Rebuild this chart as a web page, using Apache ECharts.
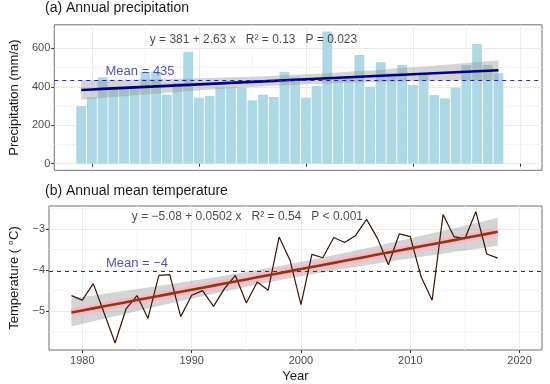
<!DOCTYPE html>
<html><head><meta charset="utf-8">
<script src="https://cdn.jsdelivr.net/npm/echarts@6/dist/echarts.min.js"></script>
<style>html,body{margin:0;padding:0;background:#fff}#c{width:550px;height:384px}</style>
</head><body><div id="c"></div>
<script>
// ---------- data ----------
const years = [1979,1980,1981,1982,1983,1984,1985,1986,1987,1988,1989,1990,1991,1992,1993,1994,1995,1996,1997,1998,1999,2000,2001,2002,2003,2004,2005,2006,2007,2008,2009,2010,2011,2012,2013,2014,2015,2016,2017,2018];
const precipitation = [300,345,449,400,395,405,478,478,360,420,582,343,352,400,400,395,329,359,347,478,450,343,404,688,450,450,565,400,527,470,513,409,470,357,340,395,513,622,513,470];
const temperature = [-4.62,-4.73,-4.33,-5.05,-5.77,-4.94,-4.62,-5.17,-4.13,-4.11,-5.13,-4.61,-4.50,-4.88,-4.45,-4.13,-4.80,-4.29,-4.49,-3.20,-3.76,-4.84,-3.62,-3.70,-3.21,-3.33,-3.16,-2.77,-3.23,-3.87,-3.12,-3.19,-4.17,-4.73,-2.65,-3.19,-3.24,-2.58,-3.61,-3.71];
const precipFit = [381, 2.63];
const tempFit = [-5.08, 0.0502];
const yearTicks = [1980,1990,2000,2010,2020];
const yearMinor = [1985,1995,2005,2015];
const precipTicks = [0,200,400,600];
const precipMinor = [100,300,500,700];
const tempTicks = [-5,-4,-3];
const tempMinor = [-5.5,-4.5,-3.5,-2.5];
const titleA = '(a) Annual precipitation';
const titleB = '(b) Annual mean temperature';
const eqA = 'y = 381 + 2.63 x   R² = 0.13   P = 0.023';
const eqB = 'y = −5.08 + 0.0502 x   R² = 0.54   P < 0.001';
const meanLabelA = 'Mean = 435';
const meanLabelB = 'Mean = −4';

// ---------- layout ----------
const FONT = 'Liberation Sans';
const G1 = {left:45, top:24.8, width:497, height:145.5};
const G2 = {left:47, top:206, width:495, height:146.7};
const xR1 = [1976.48, 2022.07], xR2 = [1976.95, 2022.05];
const yR1 = [-34.4, 722.4], yR2 = [-5.94, -2.445];

function mean(a){return a.reduce((s,v)=>s+v,0)/a.length;}
function band(vals, coef){
  const n = vals.length, xs = vals.map((_,i)=>i+1), xb = (n+1)/2;
  let sxx=0, sse=0;
  xs.forEach((x,i)=>{sxx+=(x-xb)*(x-xb); const r=vals[i]-(coef[0]+coef[1]*x); sse+=r*r;});
  const s = Math.sqrt(sse/(n-2)), t = 2.024;
  const fit = xs.map(x=>coef[0]+coef[1]*x);
  const se = xs.map(x=>s*Math.sqrt(1/n+(x-xb)*(x-xb)/sxx));
  return {fit, lo:fit.map((f,i)=>f-t*se[i]), hi:fit.map((f,i)=>f+t*se[i])};
}
const bA = band(precipitation, precipFit);
const bB = band(temperature, tempFit);

function ribbon(idx, b){
  return {type:'custom', xAxisIndex:idx, yAxisIndex:idx, z:3, silent:true,
    data:[[years[0], b.lo[0]]],
    renderItem:(p, api)=>{
      const pts=[];
      for(let i=0;i<years.length;i++) pts.push(api.coord([years[i], b.hi[i]]));
      for(let i=years.length-1;i>=0;i--) pts.push(api.coord([years[i], b.lo[i]]));
      return {type:'polygon', shape:{points:pts}, style:{fill:'rgba(153,153,153,0.42)'}};
    }};
}
function minorGrid(idx, xs, ys){
  return {type:'custom', xAxisIndex:idx, yAxisIndex:idx, z:1, silent:true,
    data:[[xs[0], ys[0]]],
    renderItem:(p, api)=>{
      const cs=p.coordSys, ch=[];
      xs.forEach(v=>{const x=api.coord([v, ys[0]])[0]; ch.push({type:'line', shape:{x1:x,y1:cs.y,x2:x,y2:cs.y+cs.height}, style:{stroke:'#f4f4f4', lineWidth:1}});});
      ys.forEach(v=>{const y=api.coord([xs[0], v])[1]; if(y>=cs.y&&y<=cs.y+cs.height) ch.push({type:'line', shape:{x1:cs.x,y1:y,x2:cs.x+cs.width,y2:y}, style:{stroke:'#f4f4f4', lineWidth:1}});});
      return {type:'group', children:ch};
    }};
}
function xAxis(gi, r, labels){
  return {type:'value', gridIndex:gi, min:r[0], max:r[1],
    axisLine:{show:false},
    axisTick:{show:true, length:3, lineStyle:{color:'#333'}, customValues:yearTicks},
    axisLabel:{show:labels, customValues:yearTicks, color:'#4d4d4d', fontSize:11, fontFamily:FONT, margin:5, formatter:v=>String(Math.round(v))},
    splitLine:{show:true, lineStyle:{color:'#ebebeb', width:1}},
    name: labels?'Year':'', nameLocation:'middle', nameGap:20,
    nameTextStyle:{color:'#1a1a1a', fontSize:13, fontFamily:FONT}};
}
function yAxis(gi, r, ticks, name){
  return {type:'value', gridIndex:gi, min:r[0], max:r[1],
    axisLine:{show:false},
    axisTick:{show:true, length:3, lineStyle:{color:'#333'}, customValues:ticks},
    axisLabel:{customValues:ticks, color:'#4d4d4d', fontSize:11, fontFamily:FONT, margin:4, formatter:v=>String(Math.round(v*100)/100).replace('-','−')},
    splitLine:{show:true, lineStyle:{color:'#ebebeb', width:1}},
    name:name, nameLocation:'middle', nameRotate:90, nameGap:28,
    nameTextStyle:{color:'#1a1a1a', fontSize:13, fontFamily:FONT}};
}
function textAt(idx, pt, txt, color, pos, size){
  return {type:'scatter', xAxisIndex:idx, yAxisIndex:idx, z:8, silent:true, symbolSize:0,
    data:[pt], label:{show:true, position:pos, distance:2, formatter:txt, color:color, fontSize:size, fontFamily:FONT}};
}
const barW = 0.9 * G1.width/(xR1[1]-xR1[0]);
const pA = years.map((y,i)=>[y, precipitation[i]]);
const tB = years.map((y,i)=>[y, temperature[i]]);
const fitA = years.map((y,i)=>[y, bA.fit[i]]);
const fitB = years.map((y,i)=>[y, bB.fit[i]]);
const meanStyle = {color:'#2626a0', width:1.2, type:[4,4]};

const option = {
  animation:false,
  backgroundColor:'#fff',
  textStyle:{fontFamily:FONT},
  grid:[
    Object.assign({show:true, borderColor:'#707070', borderWidth:1, containLabel:false}, G1),
    Object.assign({show:true, borderColor:'#707070', borderWidth:1, containLabel:false}, G2)
  ],
  xAxis:[xAxis(0, xR1, false), xAxis(1, xR2, true)],
  yAxis:[yAxis(0, yR1, precipTicks, 'Precipitation (mm/a)'), yAxis(1, yR2, tempTicks, 'Temperature ( °C)')],
  graphic:[
    {type:'text', left:45, top:1, style:{text:titleA, font:'14px "Liberation Sans"', fill:'#1a1a1a'}},
    {type:'text', left:45, top:184, style:{text:titleB, font:'14px "Liberation Sans"', fill:'#1a1a1a'}}
  ],
  series:[
    minorGrid(0, yearMinor, precipMinor),
    minorGrid(1, yearMinor, tempMinor),
    {type:'bar', xAxisIndex:0, yAxisIndex:0, z:2, data:pA, barWidth:barW, itemStyle:{color:'#add8e6'}, silent:true},
    ribbon(0, bA),
    {type:'line', xAxisIndex:0, yAxisIndex:0, z:4, data:fitA, showSymbol:false, symbol:'none', lineStyle:{color:'#000080', width:2.6}, silent:true,
      markLine:{silent:true, symbol:'none', z:5, label:{show:false}, lineStyle:meanStyle, data:[{yAxis:mean(precipitation)}]}},
    textAt(0, [1984.5, mean(precipitation)], meanLabelA, '#2b2b8c', 'top', 13),
    textAt(0, [1995.1, 643], eqA, '#1a1a1a', 'inside', 12),
    ribbon(1, bB),
    {type:'line', xAxisIndex:1, yAxisIndex:1, z:4, data:fitB, symbol:'none', lineStyle:{color:'#ffb3c6', width:8}, silent:true},
    {type:'line', xAxisIndex:1, yAxisIndex:1, z:6, data:tB, symbol:'none', lineStyle:{color:'#3b1408', width:1.2}, silent:true},
    {type:'line', xAxisIndex:1, yAxisIndex:1, z:7, data:fitB, symbol:'none', lineStyle:{color:'#7f3f12', width:2.6}, silent:true,
      markLine:{silent:true, symbol:'none', z:5, label:{show:false}, lineStyle:meanStyle, data:[{yAxis:mean(temperature)}]}},
    textAt(1, [1985.0, mean(temperature)], meanLabelB, '#2b2b8c', 'top', 13),
    textAt(1, [1995.1, -2.71], eqB, '#1a1a1a', 'inside', 12)
  ]
};
const chart = echarts.init(document.getElementById('c'));
chart.setOption(option);
</script>
</body></html>
